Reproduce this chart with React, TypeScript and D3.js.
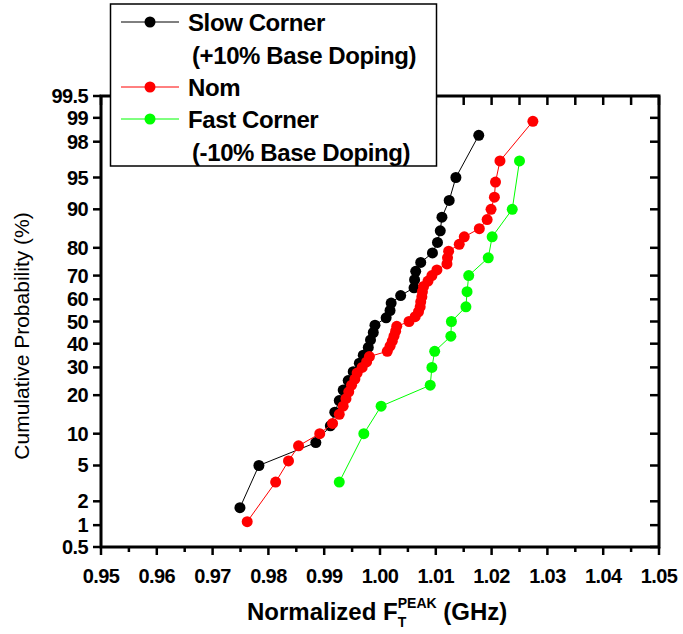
import React from "react";
import * as d3 from "d3";

// ---- data ----
const X_TICKS = [0.95, 0.96, 0.97, 0.98, 0.99, 1.0, 1.01, 1.02, 1.03, 1.04, 1.05];
const X_TICK_LABELS = ["0.95", "0.96", "0.97", "0.98", "0.99", "1.00", "1.01", "1.02", "1.03", "1.04", "1.05"];
const Y_TICKS = [0.5, 1, 2, 5, 10, 20, 30, 40, 50, 60, 70, 80, 90, 95, 98, 99, 99.5];
const Y_TICK_LABELS = ["0.5", "1", "2", "5", "10", "20", "30", "40", "50", "60", "70", "80", "90", "95", "98", "99", "99.5"];

const SLOW_X = [0.9749, 0.9783, 0.9885, 0.9911, 0.9919, 0.9927, 0.9934, 0.9943, 0.9952, 0.9963, 0.997, 0.9979, 0.9983, 0.9988, 0.9991, 1.0011, 1.0018, 1.002, 1.0037, 1.0061, 1.0062, 1.0064, 1.0073, 1.0094, 1.0103, 1.0108, 1.0111, 1.0124, 1.0136, 1.0177];
const SLOW_P = [1.67, 5, 8.33, 11.67, 15, 18.33, 21.67, 25, 28.33, 31.67, 35, 38.33, 41.67, 45, 48.33, 51.67, 55, 58.33, 61.67, 65, 68.33, 71.67, 75, 78.33, 81.67, 85, 88.33, 91.67, 95, 98.33];

const NOM_X = [0.9762, 0.9813, 0.9836, 0.9854, 0.9892, 0.9915, 0.9927, 0.9934, 0.9939, 0.9944, 0.9949, 0.9955, 0.9959, 0.9968, 0.9976, 0.9981, 1.0013, 1.0018, 1.0022, 1.0025, 1.0028, 1.003, 1.0052, 1.0063, 1.0069, 1.0072, 1.0073, 1.0075, 1.0076, 1.0078, 1.0086, 1.0093, 1.0102, 1.012, 1.0121, 1.0123, 1.0142, 1.0151, 1.0178, 1.0192, 1.0199, 1.0205, 1.0207, 1.0215, 1.0274];
const NOM_P = [1.11, 3.33, 5.56, 7.78, 10, 12.22, 14.44, 16.67, 18.89, 21.11, 23.33, 25.56, 27.78, 30, 32.22, 34.44, 36.67, 38.89, 41.11, 43.33, 45.56, 47.78, 50, 52.22, 54.44, 56.67, 58.89, 61.11, 63.33, 65.56, 67.78, 70, 72.22, 74.44, 76.67, 78.89, 81.11, 83.33, 85.56, 87.78, 90, 92.22, 94.44, 96.67, 98.89];

const FAST_X = [0.9927, 0.9971, 1.0002, 1.009, 1.0093, 1.0098, 1.0127, 1.0128, 1.0154, 1.0156, 1.0159, 1.0194, 1.0201, 1.0237, 1.025];
const FAST_P = [3.33, 10, 16.67, 23.33, 30, 36.67, 43.33, 50, 56.67, 63.33, 70, 76.67, 83.33, 90, 96.67];

const SERIES = [
  { name: "slow", xs: SLOW_X, ps: SLOW_P, color: "#000000" },
  { name: "nom", xs: NOM_X, ps: NOM_P, color: "#ff0000" },
  { name: "fast", xs: FAST_X, ps: FAST_P, color: "#00ff00" },
];

// inverse normal CDF (Acklam)
function probit(p: number): number {
  const a = [-3.969683028665376e1, 2.209460984245205e2, -2.759285104469687e2, 1.38357751867269e2, -3.066479806614716e1, 2.506628277459239];
  const b = [-5.447609879822406e1, 1.615858368580409e2, -1.556989798598866e2, 6.680131188771972e1, -1.328068155288572e1];
  const c = [-7.784894002430293e-3, -3.223964580411365e-1, -2.400758277161838, -2.549732539343734, 4.374664141464968, 2.938163982698783];
  const d = [7.784695709041462e-3, 3.224671290700398e-1, 2.445134137142996, 3.754408661907416];
  const pl = 0.02425;
  if (p < pl) {
    const q = Math.sqrt(-2 * Math.log(p));
    return (((((c[0] * q + c[1]) * q + c[2]) * q + c[3]) * q + c[4]) * q + c[5]) / ((((d[0] * q + d[1]) * q + d[2]) * q + d[3]) * q + 1);
  }
  if (p > 1 - pl) {
    const q = Math.sqrt(-2 * Math.log(1 - p));
    return -(((((c[0] * q + c[1]) * q + c[2]) * q + c[3]) * q + c[4]) * q + c[5]) / ((((d[0] * q + d[1]) * q + d[2]) * q + d[3]) * q + 1);
  }
  const q = p - 0.5;
  const r = q * q;
  return ((((((a[0] * r + a[1]) * r + a[2]) * r + a[3]) * r + a[4]) * r + a[5]) * q) / (((((b[0] * r + b[1]) * r + b[2]) * r + b[3]) * r + b[4]) * r + 1);
}

const FONT = "'Liberation Sans', Arial, Helvetica, sans-serif";

export default function App() {
  const W = 683, H = 634;
  const L = 101, R = 659, T = 96, B = 547;
  const x = d3.scaleLinear().domain([0.95, 1.05]).range([L, R]);
  const zs = d3.scaleLinear().domain([probit(0.005), probit(0.995)]).range([B, T]);
  const y = (pct: number) => zs(probit(pct / 100));

  const minorX = d3.range(0, 10).map((i) => 0.955 + i * 0.01);

  const line = d3
    .line<[number, number]>()
    .x((d) => x(d[0]))
    .y((d) => y(d[1]));

  const legend = [
    { color: "#000000", y: 22, lines: ["Slow Corner", "(+10% Base Doping)"] },
    { color: "#ff0000", y: 87, lines: ["Nom"] },
    { color: "#00ff00", y: 119, lines: ["Fast Corner", "(-10% Base Doping)"] },
  ];

  return (
    <svg width={W} height={H} style={{ position: "absolute", left: 0, top: 0, background: "#fff" }} fontFamily={FONT}>
      {/* series */}
      {SERIES.map((s) => {
        const pts: [number, number][] = s.xs.map((v, i) => [v, s.ps[i]]);
        return (
          <g key={s.name}>
            <path d={line(pts) || ""} fill="none" stroke={s.color} strokeWidth={1} />
            {pts.map((p, i) => (
              <circle key={i} cx={x(p[0])} cy={y(p[1])} r={5.5} fill={s.color} />
            ))}
          </g>
        );
      })}

      {/* frame */}
      <g stroke="#000" strokeWidth={2.5} fill="none">
        <rect x={L} y={T} width={R - L} height={B - T} strokeWidth={3} />
        {X_TICKS.map((v) => (
          <g key={"xt" + v}>
            <line x1={x(v)} x2={x(v)} y1={B} y2={B + 8} />
            <line x1={x(v)} x2={x(v)} y1={T} y2={T + 9} />
          </g>
        ))}
        {minorX.map((v) => (
          <g key={"xm" + v}>
            <line x1={x(v)} x2={x(v)} y1={B} y2={B + 5} />
            <line x1={x(v)} x2={x(v)} y1={T} y2={T + 9} />
          </g>
        ))}
        {Y_TICKS.map((v) => (
          <g key={"yt" + v}>
            <line x1={L - 8} x2={L} y1={y(v)} y2={y(v)} />
            <line x1={R - 9} x2={R} y1={y(v)} y2={y(v)} />
          </g>
        ))}
      </g>

      {/* tick labels */}
      <g fontSize={20} fontWeight="bold" fill="#000">
        {X_TICKS.map((v, i) => (
          <text key={"xl" + v} x={x(v)} y={583} textAnchor="middle" letterSpacing={-0.6}>
            {X_TICK_LABELS[i]}
          </text>
        ))}
        {Y_TICKS.map((v, i) => (
          <text key={"yl" + v} x={88} y={y(v)} dy="0.35em" textAnchor="end" letterSpacing={-0.6}>
            {Y_TICK_LABELS[i]}
          </text>
        ))}
      </g>

      {/* axis titles */}
      <text
        transform={`translate(29, 336) rotate(-90)`}
        textAnchor="middle"
        fontSize={21}
        fill="#000"
      >
        Cumulative Probability (%)
      </text>
      <text x={247} y={620} fontSize={24} fontWeight="bold" fill="#000">
        Normalized F
        <tspan fontSize={14} dy={7}>T</tspan>
        <tspan fontSize={14} dx={-8.5} dy={-19}>PEAK</tspan>
        <tspan dy={12}> (GHz)</tspan>
      </text>

      {/* legend */}
      <rect x={110.5} y={4} width={326} height={162} fill="#fff" stroke="#000" strokeWidth={1.5} />
      {legend.map((e) => (
        <g key={e.color}>
          <line x1={121} x2={179} y1={e.y} y2={e.y} stroke={e.color} strokeWidth={1} />
          <circle cx={150} cy={e.y} r={5.5} fill={e.color} />
          {e.lines.map((t, j) => (
            <text key={j} x={j === 0 ? 188 : 192} y={e.y + 9 + j * 33} fontSize={24} fontWeight="bold" fill="#000" letterSpacing={-0.4}>
              {t}
            </text>
          ))}
        </g>
      ))}
    </svg>
  );
}
